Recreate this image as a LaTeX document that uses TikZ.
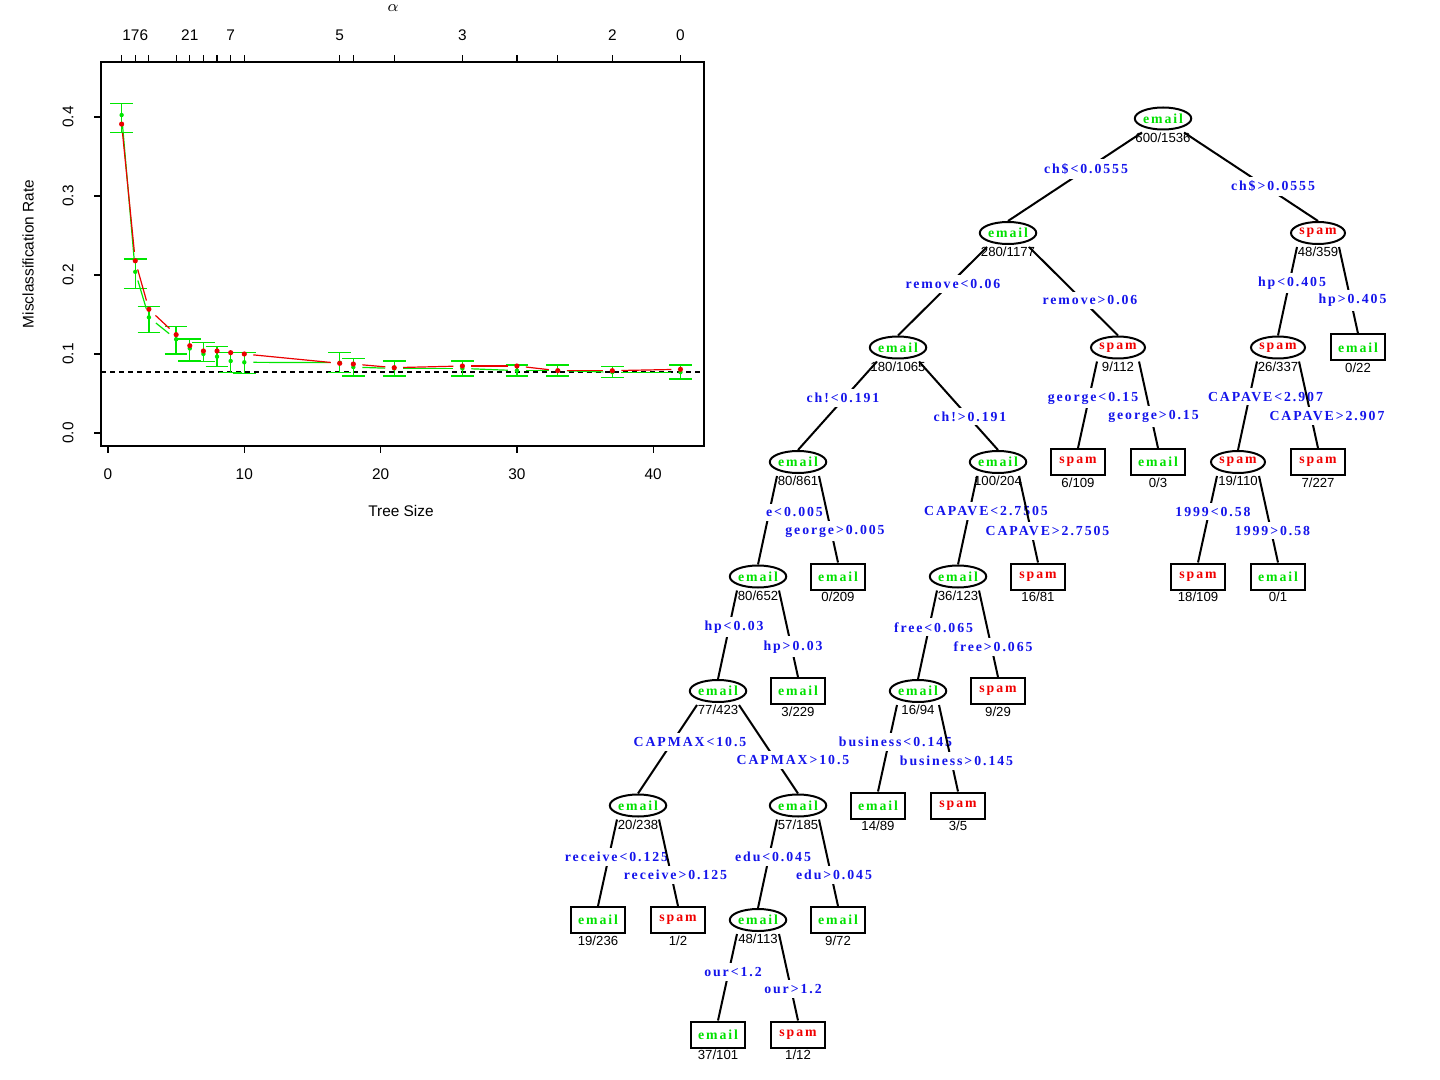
\documentclass[tikz,border=0pt]{standalone}
\usepackage{fontspec}
\setmainfont{Liberation Serif}
\newfontfamily\labfont[LetterSpace=14]{Liberation Serif}
\newfontfamily\cntfont{Liberation Sans}
\newfontfamily\axfont{Liberation Sans}
\usetikzlibrary{shapes.geometric}
\definecolor{tgreen}{RGB}{0,225,0}
\definecolor{tred}{RGB}{240,0,0}
\definecolor{tblue}{RGB}{20,20,235}
\definecolor{pgreen}{RGB}{0,230,0}
\definecolor{pred}{RGB}{235,0,0}
\newcommand\tellnode[5]{\node[ell,#4] (#1) at (#2,#3) {#4};
  \node[cnt] (#1c) at ([shift={(0,19)}]#1.center) {#5};}
\newcommand\tboxnode[5]{\node[tbox,#4] (#1) at (#2,#3) {#4};
  \node[cnt] (#1c) at ([shift={(0,20.5)}]#1.center) {#5};}
\newcommand\tsplit[7]{%
  \draw[edge] ([shift={(-21,14)}]#1.center) -- (#2.north);
  \node[lab] (#1L) at (#4) {#5};
  \draw[edge] ([shift={(21,14)}]#1.center) -- (#3.north);
  \node[lab] (#1R) at (#6) {#7};}
\begin{document}
\begin{tikzpicture}[x=0.5pt,y=-0.5pt,
  tfont/.style={font=\labfont\bfseries\fontsize{6.9}{7}\selectfont},
  ell/.style={ellipse,draw,line width=1pt,minimum width=27pt,minimum height=11pt,inner sep=0pt,tfont},
  tbox/.style={rectangle,draw,line width=1pt,minimum width=27pt,minimum height=13pt,inner sep=0pt,tfont},
  email/.style={text=tgreen},
  spam/.style={text=tred},
  cnt/.style={font=\cntfont\fontsize{6.6}{7}\selectfont,inner sep=0pt},
  lab/.style={tfont,text=tblue,fill=white,inner xsep=0.5pt,inner ysep=2pt},
  edge/.style={line width=1pt},
  ax/.style={font=\axfont\fontsize{7.7}{8}\selectfont,inner sep=0pt},
  axline/.style={line width=0.6pt},
  gbar/.style={pgreen,line width=0.7pt},
  gline/.style={pgreen,line width=0.6pt,shorten >=4.5pt,shorten <=4.5pt},
  rline/.style={pred,line width=0.6pt,shorten >=4.5pt,shorten <=4.5pt}]
\useasboundingbox (0,0) rectangle (1440,1080);
\fill[white] (0,0) rectangle (1440,1080);

% ---------------- plot ----------------
\node[ax] (alpha) at (393,8) {$\alpha$};
\draw[line width=0.75pt] (101,62) rectangle (704,446);
\foreach \s in {1,2,3,5,6,7,8,9,10,17,18,21,26,30,33,37,42}
  \draw[axline] ({108+13.63*\s},62) -- ({108+13.63*\s},55);
\foreach \s/\t in {2/176,6/21,9/7,17/5,26/3,37/2,42/0}
  \node[ax] (top\s) at ({108+13.63*\s},35) {\t};
\foreach \s in {0,10,20,30,40} {
  \draw[axline] ({108+13.63*\s},446) -- ({108+13.63*\s},453);
  \node[ax] (bot\s) at ({108+13.63*\s},474) {\s};}
\foreach \r/\t in {0/0.0,1/0.1,2/0.2,3/0.3,4/0.4} {
  \draw[axline] (101,{433-79*\r}) -- (94,{433-79*\r});
  \node[ax,rotate=90] (yl\r) at (68,{433-79*\r}) {\t};}
\node[ax] (xtitle) at (401,511) {Tree Size};
\node[ax,rotate=90] (ytitle) at (28,254) {Misclassification Rate};
\draw[line width=0.7pt,dash pattern=on 2.5pt off 2pt] (101,372) -- (704,372);

\begin{scope}[shift={(108,433)},x=6.815pt,y=395pt]
\foreach \s/\t/\b in {1/0.417/0.3806,2/0.2203/0.1827,3/0.16/0.127,5/0.1346/0.1,6/0.119/0.0911,7/0.1143/0.0903,8/0.1093/0.084,9/0.1021/0.0764,10/0.1017/0.0755,17/0.1017/0.0764,18/0.0945/0.0722,21/0.0911/0.0722,26/0.0911/0.0722,30/0.0861/0.0722,33/0.0861/0.0722,37/0.084/0.070,42/0.0861/0.0684} {
  \draw[gbar] (\s,\t) -- (\s,\b);
  \draw[gbar] ({\s-0.83},\t) -- ({\s+0.83},\t);
  \draw[gbar] ({\s-0.83},\b) -- ({\s+0.83},\b);}
\foreach \a/\ay/\b/\by in {1/0.4025/2/0.204,2/0.204/3/0.1464,3/0.1464/5/0.1186,10/0.0895/17/0.089,18/0.0834/21/0.0817,21/0.0817/26/0.0817,26/0.0817/30/0.079,30/0.079/33/0.079,33/0.079/37/0.077,37/0.077/42/0.077}
  \draw[gline] (\a,\ay) -- (\b,\by);
\foreach \a/\ay/\b/\by in {1/0.391/2/0.218,2/0.218/3/0.1566,3/0.1566/5/0.1245,10/0.1/17/0.0882,18/0.0873/21/0.0827,21/0.0827/26/0.0848,26/0.0848/30/0.0848,30/0.0848/33/0.0789,33/0.0789/37/0.0789,37/0.0789/42/0.0806}
  \draw[rline] (\a,\ay) -- (\b,\by);
\foreach \s/\g in {1/0.4025,2/0.204,3/0.1464,5/0.1186,6/0.107,7/0.1,8/0.0966,9/0.0911,10/0.0895,17/0.089,18/0.0834,21/0.0817,26/0.0817,30/0.079,33/0.079,37/0.077,42/0.077}
  \fill[pgreen] (\s,\g) circle (1.1pt);
\foreach \s/\r in {1/0.391,2/0.218,3/0.1566,5/0.1245,6/0.1105,7/0.1038,8/0.1038,9/0.1017,10/0.1,17/0.0882,18/0.0873,21/0.0827,26/0.0848,30/0.0848,33/0.0789,37/0.0789,42/0.0806}
  \fill[pred] (\s,\r) circle (1.3pt);
\end{scope}

% ---------------- tree ----------------
\tellnode{r}{1163}{118.5}{email}{600/1536}
\tellnode{a}{1008}{233}{email}{280/1177}
\tellnode{b}{1318}{233}{spam}{48/359}
\tellnode{aa}{898}{347.5}{email}{180/1065}
\tellnode{ab}{1118}{347.5}{spam}{9/112}
\tellnode{ba}{1278}{347.5}{spam}{26/337}
\tboxnode{bb}{1358}{347.5}{email}{0/22}
\tellnode{aaa}{798}{462}{email}{80/861}
\tellnode{aab}{998}{462}{email}{100/204}
\tboxnode{aba}{1078}{462}{spam}{6/109}
\tboxnode{abb}{1158}{462}{email}{0/3}
\tellnode{baa}{1238}{462}{spam}{19/110}
\tboxnode{bab}{1318}{462}{spam}{7/227}
\tellnode{aaaa}{758}{576.5}{email}{80/652}
\tboxnode{aaab}{838}{576.5}{email}{0/209}
\tellnode{aaba}{958}{576.5}{email}{36/123}
\tboxnode{aabb}{1038}{576.5}{spam}{16/81}
\tboxnode{baaa}{1198}{576.5}{spam}{18/109}
\tboxnode{baab}{1278}{576.5}{email}{0/1}
\tellnode{aaaaa}{718}{691}{email}{77/423}
\tboxnode{aaaab}{798}{691}{email}{3/229}
\tellnode{aabaa}{918}{691}{email}{16/94}
\tboxnode{aabab}{998}{691}{spam}{9/29}
\tellnode{cpa}{638}{805.5}{email}{20/238}
\tellnode{cpb}{798}{805.5}{email}{57/185}
\tboxnode{bua}{878}{805.5}{email}{14/89}
\tboxnode{bub}{958}{805.5}{spam}{3/5}
\tboxnode{rca}{598}{920}{email}{19/236}
\tboxnode{rcb}{678}{920}{spam}{1/2}
\tellnode{eda}{758}{920}{email}{48/113}
\tboxnode{edb}{838}{920}{email}{9/72}
\tboxnode{oua}{718}{1034.5}{email}{37/101}
\tboxnode{oub}{798}{1034.5}{spam}{1/12}

\tsplit{r}{a}{b}{1086,169}{ch\$<0.0555}{1273,186.5}{ch\$>0.0555}
\tsplit{a}{aa}{ab}{953,284}{remove<0.06}{1090,300.5}{remove>0.06}
\tsplit{b}{ba}{bb}{1292,283}{hp<0.405}{1352.5,300.5}{hp>0.405}
\tsplit{aa}{aaa}{aab}{843,398}{ch!<0.191}{970,416.5}{ch!>0.191}
\tsplit{ab}{aba}{abb}{1093,398}{george<0.15}{1153.5,416.5}{george>0.15}
\tsplit{ba}{baa}{bab}{1265.5,396.7}{CAPAVE<2.907}{1327,416}{CAPAVE>2.907}
\tsplit{aaa}{aaaa}{aaab}{794.5,512.5}{e<0.005}{835,531}{george>0.005}
\tsplit{aab}{aaba}{aabb}{986,511}{CAPAVE<2.7505}{1047.5,531}{CAPAVE>2.7505}
\tsplit{baa}{baaa}{baab}{1213,511.7}{1999<0.58}{1272.5,530.7}{1999>0.58}
\tsplit{aaaa}{aaaaa}{aaaab}{734,627}{hp<0.03}{793,646.7}{hp>0.03}
\tsplit{aaba}{aabaa}{aabab}{933.5,627.3}{free<0.065}{993,646.7}{free>0.065}
\tsplit{aaaaa}{cpa}{cpb}{690,742}{CAPMAX<10.5}{793,760}{CAPMAX>10.5}
\tsplit{aabaa}{bua}{bub}{895.5,741.7}{business<0.145}{956.5,760.7}{business>0.145}
\tsplit{cpa}{rca}{rcb}{616.5,857}{receive<0.125}{675.5,875}{receive>0.125}
\tsplit{cpb}{eda}{edb}{773,857}{edu<0.045}{834,875}{edu>0.045}
\tsplit{eda}{oua}{oub}{733,972}{our<1.2}{793,989}{our>1.2}
\end{tikzpicture}
\end{document}
